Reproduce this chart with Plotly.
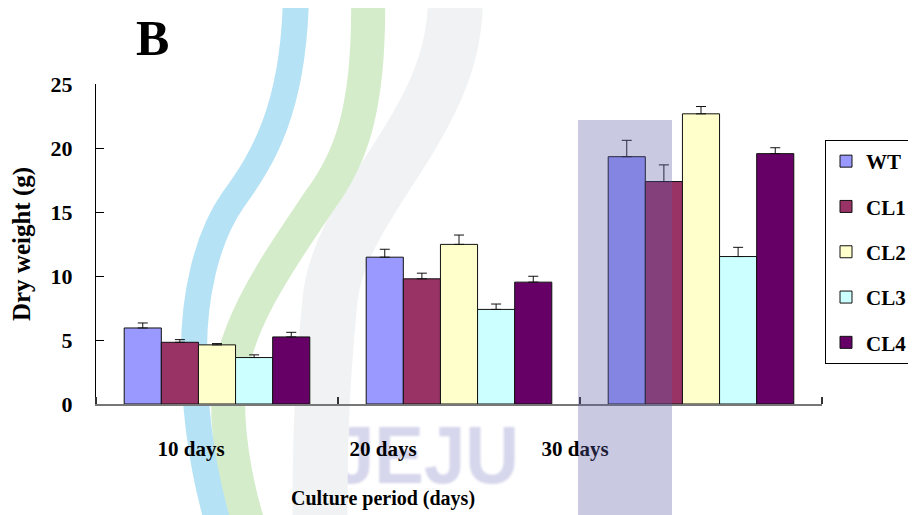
import base64
import plotly.graph_objects as go

# Data
CATEGORIES = ["10 days", "20 days", "30 days"]
SERIES = ["WT", "CL1", "CL2", "CL3", "CL4"]
WT = [5.94, 11.47, 19.32]
CL1 = [4.82, 9.78, 17.38]
CL2 = [4.62, 12.47, 22.67]
CL3 = [3.63, 7.39, 11.52]
CL4 = [5.24, 9.52, 19.56]
WT_ERR = [0.39, 0.62, 1.28]
CL1_ERR = [0.21, 0.44, 1.30]
CL2_ERR = [0.10, 0.73, 0.57]
CL3_ERR = [0.21, 0.42, 0.72]
CL4_ERR = [0.36, 0.46, 0.46]
Y_TICKS = [0, 5, 10, 15, 20, 25]

COLORS = ["#9999FF", "#993366", "#FFFFCC", "#CCFFFF", "#660066"]
FONT = "Liberation Serif"

# figure geometry (px); the page body adds an 8px offset
OFF = 8
W, H = 916, 515
L, R, T, B = 96 - OFF, 94 + OFF, 84 - OFF, 111 + OFF
PW, PH = W - L - R, H - T - B


def px(x, y):
    # screen pixel position -> paper coordinates
    return (x - OFF - L) / PW, 1 - (y - OFF - T) / PH


def curve(points):
    (x0, y0), rest = points[0], points[1:]
    a, b = px(x0, y0)
    d = f"M {a:.4f},{b:.4f}"
    for i in range(0, len(rest), 3):
        seg = [px(*p) for p in rest[i:i + 3]]
        d += " C " + " ".join(f"{u:.4f},{v:.4f}" for u, v in seg)
    return d


values = [WT, CL1, CL2, CL3, CL4]
errors = [WT_ERR, CL1_ERR, CL2_ERR, CL3_ERR, CL4_ERR]
xpos = list(range(len(CATEGORIES)))

fig = go.Figure()
for name, vals, errs, col in zip(SERIES, values, errors, COLORS):
    fig.add_trace(go.Bar(
        x=xpos, y=vals, name=name, legendgroup=name,
        marker=dict(color=col, line=dict(color="#111", width=1)),
        error_y=dict(type="data", array=errs, symmetric=False,
                     arrayminus=[0] * len(errs), color="#111",
                     thickness=1, width=5),
    ))

# invisible trace that carries the category-label axis
fig.add_trace(go.Scatter(x=xpos, y=[None] * len(xpos), xaxis="x2",
                         showlegend=False, hoverinfo="skip"))

# watermark swooshes (background decoration)
watermark = [
    ([(455, -5), (460, 120), (340, 200), (330, 300), (320, 400), (320, 470), (320, 530)], "#f1f2f4", 55),
    ([(368, -5), (370, 110), (350, 160), (320, 200), (280, 260), (228, 330), (228, 400),
      (228, 450), (240, 500), (250, 530)], "#d4ecca", 34),
    ([(296, -5), (294, 110), (262, 160), (233, 200), (205, 240), (194, 300), (194, 350),
      (194, 420), (205, 480), (220, 530)], "#b6e2f5", 26),
]
shapes = []
for pts, col, wdt in watermark:
    shapes.append(dict(type="path", xref="paper", yref="paper", path=curve(pts),
                       line=dict(color=col, width=wdt), layer="below"))
x0, y0 = px(578, 120)
x1, y1 = px(672, 530)
shapes.append(dict(type="rect", xref="paper", yref="paper", x0=x0, y0=y0, x1=x1, y1=y1,
                   fillcolor="#5c5ca6", opacity=0.33, line=dict(width=0), layer="above"))

# faint "JEJU" watermark as a background image
jeju_svg = ('<svg xmlns="http://www.w3.org/2000/svg" width="200" height="70">'
            '<filter id="b"><feGaussianBlur stdDeviation="1.2"/></filter>'
            '<text x="6" y="64" font-family="Liberation Sans" font-weight="bold" font-size="82" '
            'textLength="186" lengthAdjust="spacingAndGlyphs" fill="#d6d6ec" filter="url(#b)">JEJU</text>'
            '</svg>')
jeju_src = "data:image/svg+xml;base64," + base64.b64encode(jeju_svg.encode()).decode()
ix, iy = px(327, 419)
images = [dict(source=jeju_src, xref="paper", yref="paper", x=ix, y=iy,
               sizex=200 / PW, sizey=70 / PH, xanchor="left", yanchor="top",
               sizing="stretch", layer="below")]

bx, by = px(152, 9)
annotations = [
    dict(text="B", x=bx, y=by, xref="paper", yref="paper", showarrow=False,
         xanchor="center", yanchor="top", borderpad=0,
         font=dict(family=FONT, size=50, color="black", weight="bold")),
]

d_end = (670 - 96) / PW
lab0 = (191 - 96) / 192.0

fig.update_layout(
    width=W, height=H,
    margin=dict(l=L, r=R, t=T, b=B, autoexpand=False),
    paper_bgcolor="white", plot_bgcolor="rgba(0,0,0,0)",
    barmode="group", bargap=0.233, bargroupgap=0,
    font=dict(family=FONT, size=20, color="black", weight="bold"),
    shapes=shapes, annotations=annotations, images=images,
    xaxis=dict(range=[-0.5, 2.5], showticklabels=False, ticks="",
               showline=True, linecolor="#777", linewidth=1.5,
               showgrid=False, zeroline=False, automargin=False,
               minor=dict(ticks="inside", ticklen=7, tick0=0.5, dtick=1,
                          tickcolor="#333", tickwidth=1.5, showgrid=False)),
    xaxis2=dict(domain=[0, d_end], anchor="y", range=[-lab0, -lab0 + (670 - 96) / 192.0],
                tickvals=xpos, ticktext=CATEGORIES, ticks="", showline=False,
                showgrid=False, zeroline=False, ticklabelstandoff=30, automargin=False,
                tickfont=dict(family=FONT, size=21, color="black", weight="bold"),
                title=dict(text="Culture period (days)", standoff=30,
                           font=dict(family=FONT, size=20, color="black", weight="bold"))),
    yaxis=dict(range=[0, 25], tickvals=Y_TICKS, ticks="inside", ticklen=8,
               tickcolor="black", showline=True, linecolor="black", linewidth=1,
               showgrid=False, zeroline=False, ticklabelstandoff=18, automargin=False,
               tickfont=dict(family=FONT, size=22, color="black", weight="bold"),
               title=dict(text="Dry weight (g)", standoff=12,
                          font=dict(family=FONT, size=25, color="black", weight="bold"))),
    legend=dict(x=(825 - 96) / PW, y=1 - (140 - 84) / PH, xanchor="left", yanchor="top",
                bgcolor="white", bordercolor="black", borderwidth=1,
                tracegroupgap=15, itemwidth=30,
                font=dict(family=FONT, size=21, color="black", weight="bold")),
    showlegend=True,
)

fig.write_html("out.html")
